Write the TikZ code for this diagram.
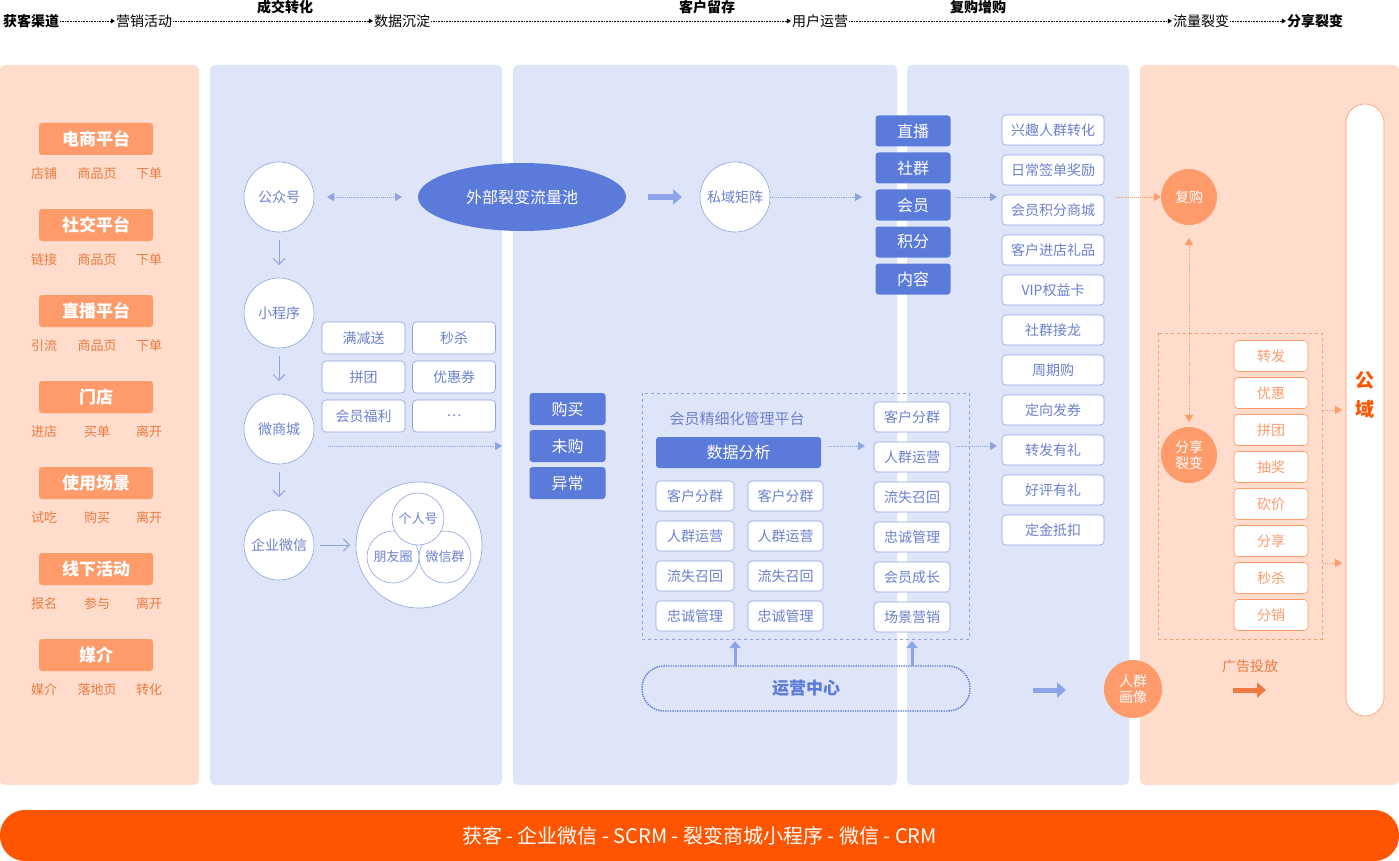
\documentclass[tikz,border=0pt]{standalone}
\usepackage{fontspec}
\setmainfont{Noto Sans CJK SC}
\usetikzlibrary{arrows.meta,shapes.geometric}
\definecolor{peach}{HTML}{FFDCCB}
\definecolor{orbox}{HTML}{FF9A6A}
\definecolor{ortext}{HTML}{EE7A3F}
\definecolor{bpanel}{HTML}{DFE5F8}
\definecolor{bdark}{HTML}{5B7BDB}
\definecolor{btext}{HTML}{6C80CF}
\definecolor{bline}{HTML}{8FA3E3}
\definecolor{barred}{HTML}{FF5500}
\definecolor{fatb}{HTML}{8FA3EA}
\begin{document}
\begin{tikzpicture}[x=1pt,y=-1pt,
 panel/.style={fill=#1,draw=none,rounded corners=5pt},
 obox/.style={fill=orbox,text=white,rounded corners=3pt,minimum width=114pt,minimum height=32pt,font=\fontsize{17}{17}\selectfont\bfseries,inner sep=0},
 osub/.style={text=ortext,font=\fontsize{13}{13}\selectfont},
 wcirc/.style={circle,fill=white,draw=bline,line width=0.6pt,minimum size=70pt,inner sep=0,text=btext,font=\fontsize{14}{14}\selectfont},
 wbox/.style={fill=white,draw=bline,line width=0.6pt,rounded corners=4pt,minimum height=#1,text=btext,inner sep=0,font=\fontsize{14}{14}\selectfont},
 wbox/.default=31pt,
 dbox/.style={fill=bdark,text=white,rounded corners=3pt,minimum height=31pt,inner sep=0,font=\fontsize{16}{16}\selectfont},
 pbox/.style={fill=white,draw=orbox,line width=0.6pt,rounded corners=4pt,minimum width=74pt,minimum height=31pt,inner sep=0,text=orbox,font=\fontsize{14}{14}\selectfont},
 ocirc/.style={circle,fill=orbox,text=white,inner sep=0,font=\fontsize{14}{16}\selectfont,align=center},
 dotarr/.style={densely dotted,draw=bline,line width=0.9pt,-{Triangle[length=7pt,width=8pt]}},
 odotarr/.style={densely dotted,draw=orbox,line width=0.9pt,-{Triangle[length=7pt,width=8pt]}},
 tarr/.style={densely dotted,line width=0.6pt,-{Triangle[length=4pt,width=5pt]}},
 thin/.style={draw=bline,line width=1pt,-{Straight Barb[length=6pt,width=12pt]}},
 fat/.style={line width=5pt,-{Triangle[length=9pt,width=15pt]}},
 top/.style={font=\fontsize{14}{14}\selectfont,inner sep=1pt},
]
\useasboundingbox (0,0) rectangle (1399,861);
\fill[white] (0,0) rectangle (1399,861);
% top flow
\node[top,font=\fontsize{14}{14}\selectfont\bfseries] (t1) at (31,21) {获客渠道};
\node[top] (t2) at (144,21) {营销活动};
\node[top] (t3) at (402,21) {数据沉淀};
\node[top] (t4) at (820,21) {用户运营};
\node[top] (t5) at (1201,21) {流量裂变};
\node[top,font=\fontsize{14}{14}\selectfont\bfseries] (t6) at (1315,21) {分享裂变};
\node[top,font=\fontsize{14}{14}\selectfont\bfseries] (u1) at (285,7) {成交转化};
\node[top,font=\fontsize{14}{14}\selectfont\bfseries] (u2) at (707,7) {客户留存};
\node[top,font=\fontsize{14}{14}\selectfont\bfseries] (u3) at (978,7) {复购增购};
\foreach \a/\b in {t1/t2,t2/t3,t3/t4,t4/t5,t5/t6} \draw[tarr] (\a) -- (\b);
% panels
\fill[panel=peach] (0,65) rectangle (199,785);
\fill[panel=bpanel] (210,65) rectangle (502,785);
\fill[panel=bpanel] (513,65) rectangle (897,785);
\fill[panel=bpanel] (907,65) rectangle (1129,785);
\fill[panel=peach] (1140,65) rectangle (1399,785);
% bottom bar
\node[fill=barred,rounded corners=25pt,minimum width=1399pt,minimum height=51pt,text=white,font=\fontsize{20}{20}\selectfont,inner sep=0] (bar) at (699.5,835.5) {获客 - 企业微信 - SCRM - 裂变商城小程序 - 微信 - CRM};
% left column
\foreach \n/\y/\t/\a/\b/\c in {l1/139/电商平台/店铺/商品页/下单, l2/225/社交平台/链接/商品页/下单, l3/311/直播平台/引流/商品页/下单, l4/397/门店/进店/买单/离开, l5/483/使用场景/试吃/购买/离开, l6/569/线下活动/报名/参与/离开, l7/655/媒介/媒介/落地页/转化}{
 \node[obox] (\n) at (96,\y) {\t};
 \node[osub] (\n a) at (44,\y+35) {\a};
 \node[osub] (\n b) at (97,\y+35) {\b};
 \node[osub] (\n c) at (149,\y+35) {\c};
}
% panel 1
\node[wcirc] (gzh) at (279,197) {公众号};
\node[wcirc] (xcx) at (279,313) {小程序};
\node[wcirc] (wsc) at (279,429) {微商城};
\node[wcirc] (qywx) at (279,545) {企业微信};
\draw[thin] (279,240) -- (279,265);
\draw[thin] (279,356) -- (279,381);
\draw[thin] (279,472) -- (279,497);
\node[ellipse,fill=bdark,minimum width=208pt,minimum height=68pt,text=white,font=\fontsize{16}{16}\selectfont,inner sep=0] (pool) at (522,197) {外部裂变流量池};
\draw[dotarr,{Triangle[length=7pt,width=8pt]}-{Triangle[length=7pt,width=8pt]}] (327,197) -- (402,197);
\foreach \n/\x/\y/\t in {g1/363.5/338/满减送, g2/454/338/秒杀, g3/363.5/377/拼团, g4/454/377/优惠券, g5/363.5/416/会员福利, g6/454/416/{…}}
 \node[wbox=32pt,minimum width=83pt] (\n) at (\x,\y) {\t};
\coordinate (d1s) at (328,446);
\coordinate (d1e) at (502,446);
\draw[dotarr] (d1s) -- (d1e);
\coordinate (q1) at (320,545); \coordinate (q2) at (350,545);
\draw[thin] (q1) -- (q2);
\node[circle,fill=white,draw=bline,line width=0.6pt,minimum size=126pt,inner sep=0] (big) at (419,545) {};
\node[circle,draw=bline,fill=white,line width=0.6pt,minimum size=52pt,inner sep=0,text=btext,font=\fontsize{13}{13}\selectfont] (c2) at (393,557) {朋友圈};
\node[circle,draw=bline,fill=white,line width=0.6pt,minimum size=52pt,inner sep=0,text=btext,font=\fontsize{13}{13}\selectfont] (c3) at (445,557) {微信群};
\node[circle,draw=bline,fill=white,line width=0.6pt,minimum size=52pt,inner sep=0,text=btext,font=\fontsize{13}{13}\selectfont] (c1) at (418,519) {个人号};
% panel 2
\draw[fat,draw=fatb] (648,197) -- (682,197);
\node[wcirc] (sy) at (735,197) {私域矩阵};
\draw[dotarr] (sy) -- (862,197);
\foreach \n/\y/\t in {z1/131/直播, z2/168/社群, z3/205/会员, z4/242/积分, z5/279/内容}
 \node[dbox,minimum width=75pt] (\n) at (913,\y) {\t};
\foreach \n/\y/\t in {b1/409/购买, b2/446/未购, b3/483/异常}
 \node[dbox,minimum width=76pt,minimum height=32pt] (\n) at (567.5,\y) {\t};
\draw[bline,dashed,line width=0.7pt] (642,393) rectangle (969,639);
\node[text=btext,font=\fontsize{15}{15}\selectfont] (hy) at (737,419) {会员精细化管理平台};
\node[dbox,minimum width=165pt] (sjfx) at (738.5,452.5) {数据分析};
\draw[dotarr] (827,446) -- (865,446);
\foreach \y/\t [count=\i] in {496/客户分群,536/人群运营,576/流失召回,616/忠诚管理}{
 \node[wbox=30pt,minimum width=78pt] (m\i) at (695,\y) {\t};
 \node[wbox=30pt,minimum width=75pt] (n\i) at (785.5,\y) {\t};
}
\foreach \y/\t [count=\i] in {417/客户分群,457/人群运营,497/流失召回,537/忠诚管理,577/会员成长,617/场景营销}
 \node[wbox=30pt,minimum width=76pt] (r\i) at (912,\y) {\t};
\node[draw=bdark,densely dotted,line width=1.4pt,rounded corners=22pt,minimum width=328pt,minimum height=45pt,text=bdark,font=\fontsize{17}{17}\selectfont\bfseries,inner sep=0] (yy) at (806,688.5) {运营中心};
\draw[line width=3pt,draw=fatb,-{Triangle[length=7pt,width=11pt]}] (735,666) -- (735,641);
\draw[line width=3pt,draw=fatb,-{Triangle[length=7pt,width=11pt]}] (912,666) -- (912,641);
% panel 3
\draw[dotarr] (955,197) -- (997,197);
\draw[dotarr] (955,446) -- (997,446);
\foreach \y/\t [count=\i] in {130/兴趣人群转化,170/日常签单奖励,210/会员积分商城,250/客户进店礼品,290/VIP权益卡,330/社群接龙,370/周期购,410/定向发券,450/转发有礼,490/好评有礼,530/定金抵扣}
 \node[wbox=30pt,minimum width=102pt] (p\i) at (1053,\y) {\t};
\draw[fat,draw=fatb] (1033,690) -- (1066,690);
\node[ocirc,minimum size=58pt] (rq) at (1133,689) {人群\\画像};
% right panel
\node[ocirc,minimum size=56pt] (fg) at (1189,197) {复购};
\draw[odotarr] (1115,197) -- (fg);
\node[ocirc,minimum size=56pt] (fx) at (1189,455) {分享\\裂变};
\draw[odotarr,{Triangle[length=7pt,width=8pt]}-{Triangle[length=7pt,width=8pt]}] (1189,238) -- (1189,422);
\draw[orbox,dashed,line width=0.7pt] (1158,333) rectangle (1322,639);
\foreach \y/\t [count=\i] in {356/转发,393/优惠,430/拼团,467/抽奖,504/砍价,541/分享,578/秒杀,615/分销}
 \node[pbox] (s\i) at (1271,\y) {\t};
\node[fill=white,draw=orbox,line width=0.6pt,rounded corners=19pt,minimum width=38pt,minimum height=612pt,inner sep=0] (gy) at (1365,410) {};
\node[text=barred,font=\fontsize{19}{19}\selectfont\bfseries,align=center] (gyt) at (1365,395) {公\\[10pt]域};
\draw[odotarr] (1323,410) -- (1342,410);
\draw[odotarr] (1323,563) -- (1342,563);
\node[text=ortext,font=\fontsize{14}{14}\selectfont] (gg) at (1250,666) {广告投放};
\draw[fat,draw=ortext] (1233,690) -- (1266,690);
\end{tikzpicture}
\end{document}
